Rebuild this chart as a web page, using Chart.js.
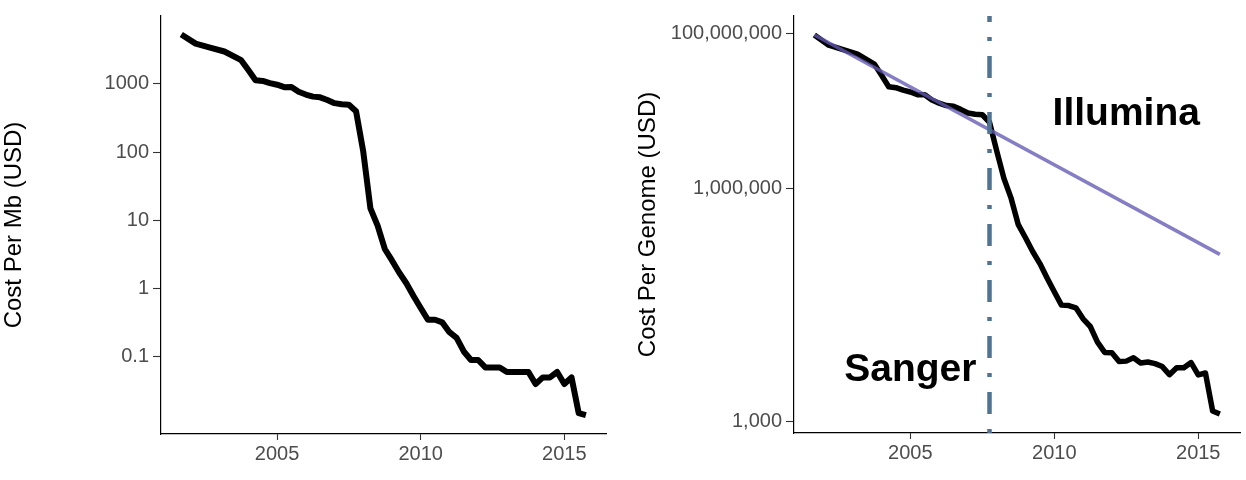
<!DOCTYPE html>
<html><head><meta charset="utf-8">
<script src="https://cdn.jsdelivr.net/npm/chart.js@4.4.0/dist/chart.umd.min.js"></script>
<style>
html,body{margin:0;padding:0;background:#fff;}
#wrap{position:relative;width:1246px;height:480px;overflow:hidden;}
canvas{position:absolute;top:0;}
#c1{left:0}
#c2{left:623px}
</style></head><body>
<div id="wrap"><canvas id="c1" width="623" height="480"></canvas><canvas id="c2" width="623" height="480"></canvas></div>
<script>
// ---- data ----
const dates = ["2001-09","2002-03","2002-09","2003-03","2003-10","2004-01","2004-04","2004-07","2004-10",
  "2005-01","2005-04","2005-07","2005-10","2006-01","2006-04","2006-07","2006-10","2007-01","2007-04","2007-07","2007-10",
  "2008-01","2008-04","2008-07","2008-10","2009-01","2009-04","2009-07","2009-10","2010-01","2010-04","2010-07","2010-10",
  "2011-01","2011-04","2011-07","2011-10","2012-01","2012-04","2012-07","2012-10","2013-01","2013-04","2013-07","2013-10",
  "2014-01","2014-04","2014-07","2014-10","2015-01","2015-04","2015-07","2015-10"];
const costPerMb = [5292.39,3898.64,3413.80,2986.20,2230.98,1598.91,1135.70,1107.46,1028.85,
  974.16,897.76,898.90,766.73,699.20,651.81,636.41,581.92,522.71,502.61,495.96,397.09,
  102.13,15.03,8.36,3.81,2.59,1.72,1.20,0.78,0.52,0.35,0.35,0.32,
  0.23,0.19,0.12,0.09,0.09,0.07,0.07,0.07,0.06,0.06,0.06,0.06,
  0.04,0.05,0.05,0.06,0.04,0.05,0.015,0.014];
const costPerGenome = [95263072,70175437,61448422,53751684,40157554,28780376,20442576,19934346,18519312,
  17534970,16159699,16180224,13801124,12585659,11732535,11455315,10474556,9408739,9047003,8927342,7147571,
  3063820,1352982,752080,342502,232735,154714,108065,70333,46774,31512,31125,29092,
  20963,16712,10497,7743,7666,5901,5985,6618,5671,5826,5550,5096,
  4008,4920,4905,5731,3970,4211,1363,1245];
const xTicks = [2005, 2010, 2015];
const mbTicks = [0.1, 1, 10, 100, 1000];
const mbTickLabels = ["0.1","1","10","100","1000"];
const genomeTicks = [1e3, 1e6, 1e8];
const genomeTickLabels = ["1,000","1,000,000","100,000,000"];
const mooreX = [2001.67, 2015.75];
const mooreY = [95263072, 142000];
const switchYear = 2007.75;
const labelText = ["Sanger","Illumina"];
const labelX = [2005, 2012.5];
const labelY = [5000, 1e7];

// ---- helpers ----
const FAMILY = '"Liberation Sans", Arial, Helvetica, sans-serif';
Chart.defaults.font.family = FAMILY;
const years = dates.map(d => { const p = d.split('-').map(Number); return p[0] + (p[1]-1)/12; });
const pts = (xs, ys) => xs.map((x, i) => ({x: x, y: ys[i]}));

const X_MIN = 2000.96, X_MAX = 2016.45;

function xScale(h) {
  return {
    type: 'linear', min: X_MIN, max: X_MAX,
    afterBuildTicks: s => { s.ticks = xTicks.map(v => ({value: v})); },
    ticks: { callback: (v, i) => String(xTicks[i]), font: {size: 20}, color: '#4d4d4d', padding: 2, maxRotation: 0, autoSkip: false },
    grid: { drawOnChartArea: false, drawTicks: true, tickLength: 6, tickColor: '#333', tickWidth: 1.1 },
    border: { display: true, color: '#000', width: 1.2 },
    afterFit: s => { s.height = h; }
  };
}
function yScale(min, max, ticks, labels, title, w, tpad) {
  return {
    type: 'logarithmic', min: min, max: max,
    afterBuildTicks: s => { s.ticks = ticks.map(v => ({value: v})); },
    ticks: { callback: (v, i) => labels[i], font: {size: 20}, color: '#4d4d4d', padding: 4, autoSkip: false },
    grid: { drawOnChartArea: false, drawTicks: true, tickLength: 8, tickColor: '#333', tickWidth: 1.1 },
    border: { display: true, color: '#000', width: 1.2 },
    title: { display: true, text: title, font: {size: 24}, color: '#000', padding: {top: tpad, bottom: 0} },
    afterFit: s => { s.width = w; }
  };
}
const common = {
  responsive: false, animation: false, devicePixelRatio: 1, events: [],
  plugins: { legend: {display: false}, tooltip: {enabled: false} },
  elements: { point: { radius: 0 } }
};

// ---- left chart ----
const MB_MIN = 0.0074, MB_MAX = 9900;
new Chart(document.getElementById('c1'), {
  type: 'line',
  data: { datasets: [{
    data: pts(years, costPerMb), borderColor: '#000', borderWidth: 6,
    borderJoinStyle: 'round', borderCapStyle: 'butt', tension: 0, fill: false
  }]},
  options: Object.assign({}, common, {
    layout: { padding: { top: 15, right: 17, left: 0, bottom: 0 } },
    scales: { x: xScale(46), y: yScale(MB_MIN, MB_MAX, mbTicks, mbTickLabels, 'Cost Per Mb (USD)', 161, 0) }
  })
});

// ---- right chart ----
const G_MIN = 710, G_MAX = 1.67e8;
const textPlugin = {
  id: 'sangerIllumina',
  afterDatasetsDraw(chart) {
    const ctx = chart.ctx, xs = chart.scales.x, ys = chart.scales.y;
    const size = 39;
    ctx.save();
    ctx.font = 'bold ' + size + 'px ' + FAMILY;
    ctx.fillStyle = '#000';
    ctx.textAlign = 'center';
    ctx.textBaseline = 'alphabetic';
    labelText.forEach((t, i) => {
      ctx.fillText(t, xs.getPixelForValue(labelX[i]), ys.getPixelForValue(labelY[i]) + 0.36 * size);
    });
    ctx.restore();
  }
};
new Chart(document.getElementById('c2'), {
  type: 'line',
  data: { datasets: [
    { data: [{x: switchYear, y: G_MIN}, {x: switchYear, y: G_MAX}], borderColor: '#4f7391', borderWidth: 4.5,
      borderDash: [4, 15, 22, 15], borderCapStyle: 'butt', order: 0 },
    { data: pts(mooreX, mooreY), borderColor: 'rgba(100,90,180,0.78)', borderWidth: 3.5, borderCapStyle: 'butt', order: 1 },
    { data: pts(years, costPerGenome), borderColor: '#000', borderWidth: 5.5,
      borderJoinStyle: 'round', borderCapStyle: 'butt', tension: 0, order: 2 }
  ]},
  options: Object.assign({}, common, {
    layout: { padding: { top: 15, right: 6, left: 0, bottom: 0 } },
    scales: { x: xScale(47), y: yScale(G_MIN, G_MAX, genomeTicks, genomeTickLabels, 'Cost Per Genome (USD)', 171, 10.6) }
  }),
  plugins: [textPlugin]
});
</script>
</body></html>
